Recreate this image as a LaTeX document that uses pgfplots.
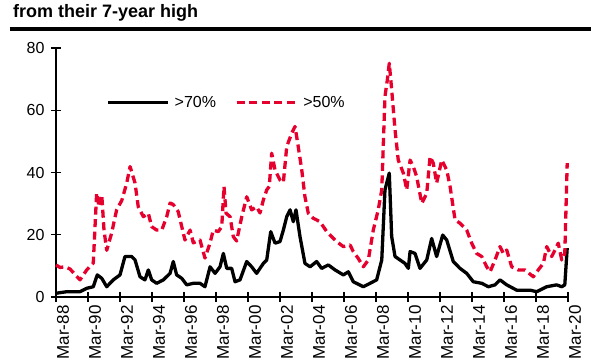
\documentclass[border=0pt]{standalone}
\usepackage{pgfplots}
\pgfplotsset{compat=1.18}
\usepackage{fontspec}
\setmainfont{Liberation Sans}
\definecolor{myred}{RGB}{230,0,45}
\begin{document}
\begin{tikzpicture}
\begin{axis}[
  scale only axis=true,
  width=512bp, height=249bp,
  xmin=0, xmax=32, ymin=0, ymax=80,
  axis x line*=bottom, axis y line*=left,
  axis line style={line width=1.4bp, black},
  tick style={line width=1.2bp, black},
  tick align=center,
  major tick length=10bp,
  xtick={0,2,...,32},
  xticklabels={Mar-88,Mar-90,Mar-92,Mar-94,Mar-96,Mar-98,Mar-00,Mar-02,Mar-04,Mar-06,Mar-08,Mar-10,Mar-12,Mar-14,Mar-16,Mar-18,Mar-20},
  xticklabel style={rotate=90, anchor=east, font=\fontsize{17bp}{19bp}\selectfont, yshift=-7bp},
  ytick={0,20,40,60,80},
  yticklabel style={font=\fontsize{16bp}{18bp}\selectfont, xshift=-3bp},
  /pgf/number format/assume math mode=true,
  clip=false,
  legend style={draw=none, fill=none, at={(axis cs:2.95,62.5)}, anchor=west,
    font=\fontsize{16bp}{18bp}\selectfont, legend columns=2,
    /tikz/every odd column/.append style={column sep=3bp},
    /tikz/every even column/.append style={column sep=17bp}},
  legend image code/.code={\draw[#1] (0bp,0bp) -- (60bp,0bp);},
]
\coordinate (O) at (axis cs:0,0);
\addplot[black, line width=3.3bp, line join=round] coordinates {
(0,1.2)(0.67,1.7)(1.5,1.7)(1.92,2.8)(2.33,3.3)(2.58,7.1)(2.86,6)(3.17,3.3)(3.58,5.5)(4.0,7.1)
(4.31,13)(4.73,13)(4.94,11.9)(5.25,6.5)(5.56,5.5)(5.77,8.7)(5.98,5.5)(6.29,4.4)(6.71,5.5)(7.13,7.6)
(7.33,11.4)(7.54,7.1)(7.86,6)(8.17,3.9)(8.58,4.4)(9.0,4.4)(9.31,3.3)(9.63,9.7)(9.94,7.6)(10.25,9.7)
(10.46,14)(10.67,9.2)(10.98,9.2)(11.19,4.9)(11.5,5.5)(11.92,11.4)(12.23,9.7)(12.54,7.6)(12.96,10.8)(13.17,11.9)
(13.42,21)(13.69,17.3)(14.0,17.8)(14.21,21.5)(14.42,25.8)(14.63,28)(14.83,24.2)(15.0,28)(15.25,19.4)(15.56,10.8)
(15.88,9.7)(16.29,11.4)(16.6,9.2)(17.02,10.3)(17.44,8.7)(17.96,7.1)(18.27,8.1)(18.58,4.9)(19.21,3.3)(19.63,4.4)
(20.04,5.5)(20.36,11.9)(20.56,34.4)(20.83,39.8)(20.98,19.4)(21.19,13)(21.5,11.9)(21.81,10.8)(22.02,9.2)(22.13,14.6)
(22.44,14)(22.75,9.2)(23.17,11.9)(23.48,18.8)(23.79,13)(24.17,19.9)(24.42,18.3)(24.83,11.4)(25.25,9.2)(25.67,7.6)
(26.08,4.9)(26.61,4.4)(27.02,3.3)(27.44,3.9)(27.75,5.5)(28.17,3.9)(28.79,2.2)(29.63,2.2)(30.04,1.7)(30.67,3.3)
(31.29,3.9)(31.61,3.3)(31.8,3.9)(31.95,15.7)
};
\addlegendentry{>70\%}
\addplot[myred, line width=3.3bp, dash pattern=on 8bp off 4.5bp, line join=round] coordinates {
(0,10.3)(0.25,9.5)(0.56,9.7)(0.875,9)(1.5,5.5)(1.92,8.7)(2.33,10.9)(2.54,33.4)(2.69,29)(2.86,32.8)
(3.0,21.5)(3.17,15)(3.48,20.6)(3.79,28)(4.11,31)(4.42,36.6)(4.63,41.9)(4.94,36.6)(5.14,29)(5.46,25.8)
(5.77,26.9)(5.98,22.6)(6.29,21.5)(6.61,21.5)(6.92,25.8)(7.13,30.2)(7.33,29.7)(7.64,27.4)(7.86,22.6)(8.06,18.3)
(8.38,21.5)(8.58,17.4)(9.0,18.3)(9.31,12.5)(9.63,17.4)(9.83,21.5)(10.14,21)(10.36,22.6)(10.5,35.5)(10.63,26.9)
(10.88,25.8)(11.08,19.4)(11.29,18)(11.61,25.8)(11.92,32.2)(12.23,28)(12.54,29)(12.75,27)(12.96,31.2)(13.17,34.4)
(13.33,35.5)(13.48,46.2)(13.69,40.8)(14.0,37.6)(14.21,36.8)(14.42,48.3)(14.73,52.6)(14.94,54.8)(15.14,48.3)(15.36,40.8)
(15.56,32.2)(15.77,26.9)(16.08,25.3)(16.5,24.2)(16.92,21)(17.23,19.4)(17.54,17.8)(17.96,16.2)(18.38,16.7)(18.58,14.6)
(18.89,12.4)(19.21,9.7)(19.52,11.9)(19.83,21.5)(20.14,28)(20.36,34.4)(20.56,64.4)(20.71,69.8)(20.83,75.1)(20.98,66.6)
(21.19,53.7)(21.39,44)(21.71,39.8)(21.92,34.4)(22.13,44)(22.33,41.9)(22.54,38.7)(22.86,30.1)(23.17,33.3)(23.38,45.1)
(23.58,43)(23.79,36.6)(24.11,44)(24.42,40.8)(24.63,35.5)(24.94,24.8)(25.25,23.7)(25.67,21.5)(25.98,17.3)(26.29,14)
(26.61,13)(26.92,9.7)(27.13,8.1)(27.44,11.9)(27.75,16.2)(27.96,14)(28.17,15.1)(28.48,9.7)(28.89,8.7)(29.31,8.7)
(29.83,6.5)(30.14,8.7)(30.46,10.8)(30.67,16.2)(30.98,13)(31.19,15.1)(31.39,17.3)(31.61,11.9)(31.8,14)(31.95,43)
};
\addlegendentry{>50\%}
\end{axis}
\node[anchor=base west, font=\bfseries\fontsize{18bp}{20bp}\selectfont, inner sep=0pt] at ([xshift=-43bp,yshift=279bp]O) {from their 7-year high};
\draw[line width=4bp] ([xshift=-46bp,yshift=267.5bp]O) -- ([xshift=535bp,yshift=267.5bp]O);
\pgfresetboundingbox
\path[use as bounding box] ([xshift=-56bp,yshift=-63bp]O) rectangle ([xshift=535bp,yshift=297bp]O);
\end{tikzpicture}
\end{document}
